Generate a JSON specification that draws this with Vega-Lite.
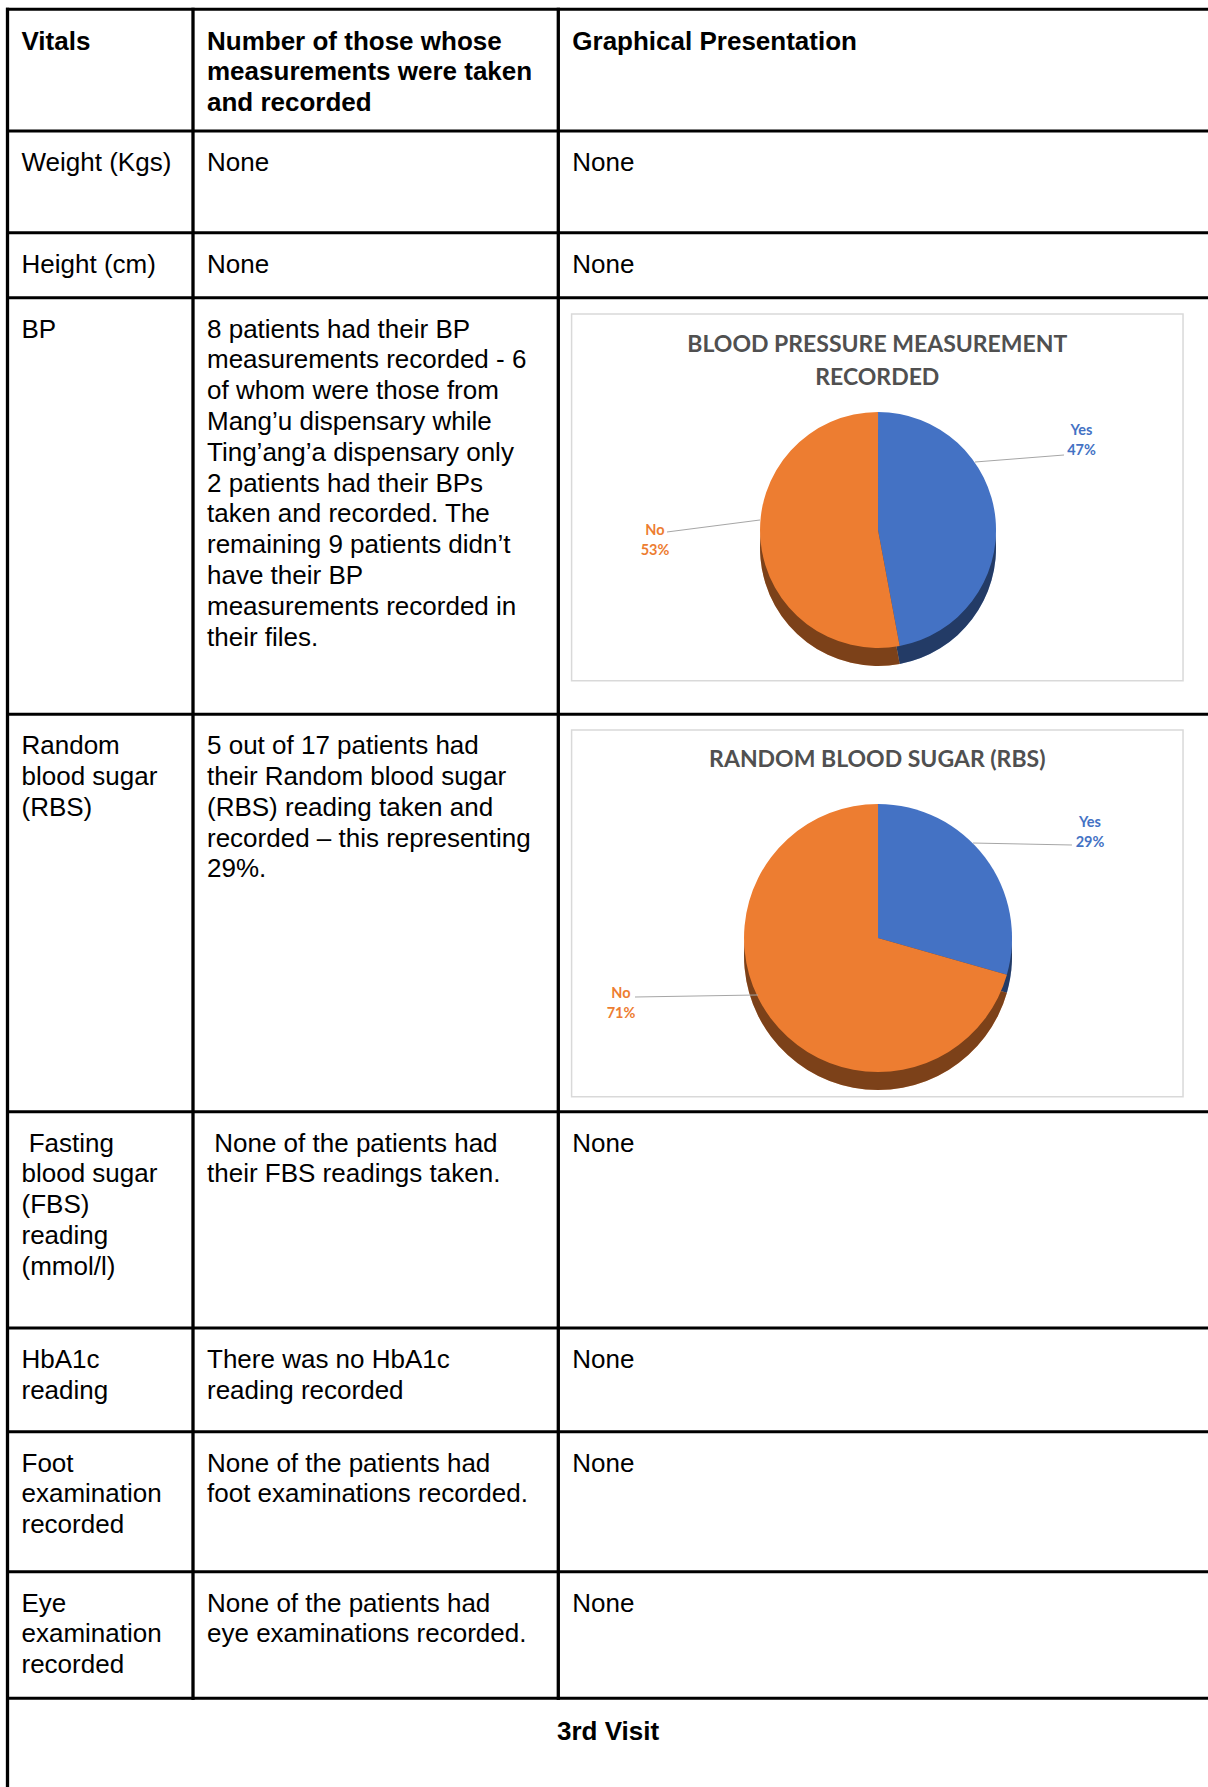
{
  "$schema": "https://vega.github.io/schema/vega-lite/v6.json",
  "width": 1208,
  "height": 1787,
  "padding": 0,
  "autosize": {"type": "none"},
  "background": "white",
  "config": {"view": {"stroke": null}, "axis": {"disable": true}},
  "datasets": {
    "cells": [
      {"row": 0, "col": 0, "text": "Vitals"},
      {"row": 0, "col": 1, "text": "Number of those whose\nmeasurements were taken\nand recorded"},
      {"row": 0, "col": 2, "text": "Graphical Presentation"},
      {"row": 1, "col": 0, "text": "Weight (Kgs)"},
      {"row": 1, "col": 1, "text": "None"},
      {"row": 1, "col": 2, "text": "None"},
      {"row": 2, "col": 0, "text": "Height (cm)"},
      {"row": 2, "col": 1, "text": "None"},
      {"row": 2, "col": 2, "text": "None"},
      {"row": 3, "col": 0, "text": "BP"},
      {"row": 3, "col": 1, "text": "8 patients had their BP\nmeasurements recorded - 6\nof whom were those from\nMang’u dispensary while\nTing’ang’a dispensary only\n2 patients had their BPs\ntaken and recorded. The\nremaining 9 patients didn’t\nhave their BP\nmeasurements recorded in\ntheir files."},
      {"row": 4, "col": 0, "text": "Random\nblood sugar\n(RBS)"},
      {"row": 4, "col": 1, "text": "5 out of 17 patients had\ntheir Random blood sugar\n(RBS) reading taken and\nrecorded – this representing\n29%."},
      {"row": 5, "col": 0, "text": "\u200b\u00a0Fasting\nblood sugar\n(FBS)\nreading\n(mmol/l)"},
      {"row": 5, "col": 1, "text": "\u200b\u00a0None of the patients had\ntheir FBS readings taken."},
      {"row": 5, "col": 2, "text": "None"},
      {"row": 6, "col": 0, "text": "HbA1c\nreading"},
      {"row": 6, "col": 1, "text": "There was no HbA1c\nreading recorded"},
      {"row": 6, "col": 2, "text": "None"},
      {"row": 7, "col": 0, "text": "Foot\nexamination\nrecorded"},
      {"row": 7, "col": 1, "text": "None of the  patients had\nfoot examinations recorded."},
      {"row": 7, "col": 2, "text": "None"},
      {"row": 8, "col": 0, "text": "Eye\nexamination\nrecorded"},
      {"row": 8, "col": 1, "text": "None of the  patients had\neye examinations recorded."},
      {"row": 8, "col": 2, "text": "None"}
    ],
    "footer": [{"row": 9, "col": 2.0763, "text": "3rd Visit"}],
    "hlines": [
      {"edge": 0, "from": 0, "to": 3}, {"edge": 1, "from": 0, "to": 3}, {"edge": 2, "from": 0, "to": 3},
      {"edge": 3, "from": 0, "to": 3}, {"edge": 4, "from": 0, "to": 3}, {"edge": 5, "from": 0, "to": 3},
      {"edge": 6, "from": 0, "to": 3}, {"edge": 7, "from": 0, "to": 3}, {"edge": 8, "from": 0, "to": 3},
      {"edge": 9, "from": 0, "to": 3}
    ],
    "vlines": [{"col": 0, "top": 0, "end": 10}, {"col": 1, "top": 0, "end": 9}, {"col": 2, "top": 0, "end": 9}],
    "charts": [
      {"chart": "BP", "title": "BLOOD PRESSURE MEASUREMENT\nRECORDED", "boxLeft": 2.0204, "boxRight": 2.9586, "boxTop": 3.0391, "boxBottom": 3.9193, "titleX": 2.4895, "titleY": 3.1296, "cx": 2.4906, "cy": 3.5576, "cyBase": 3.6008},
      {"chart": "RBS", "title": "RANDOM BLOOD SUGAR (RBS)", "boxLeft": 2.0204, "boxRight": 2.9586, "boxTop": 4.0395, "boxBottom": 4.9623, "titleX": 2.4895, "titleY": 4.1319, "cx": 2.4906, "cy": 4.5629, "cyBase": 4.6082}
    ],
    "callouts": [
      {"key": "BP-Yes", "lx": 2.8028, "ly": 3.3296, "fromX": 2.776, "fromY": 3.3776, "toX": 2.6394, "toY": 3.3944},
      {"key": "BP-No", "lx": 2.1484, "ly": 3.5696, "fromX": 2.1668, "fromY": 3.5624, "toX": 2.3095, "toY": 3.5336},
      {"key": "RBS-Yes", "lx": 2.8159, "ly": 4.2828, "fromX": 2.7882, "fromY": 4.3289, "toX": 2.6363, "toY": 4.3239},
      {"key": "RBS-No", "lx": 2.0962, "ly": 4.7139, "fromX": 2.1177, "fromY": 4.7114, "toX": 2.3064, "toY": 4.7063}
    ],
    "pies": [
      {"chart": "BP", "answer": "Yes", "patients": 8},
      {"chart": "BP", "answer": "No", "patients": 9},
      {"chart": "RBS", "answer": "Yes", "patients": 5},
      {"chart": "RBS", "answer": "No", "patients": 12}
    ]
  },
  "layer": [
    {
      "data": {"name": "charts"},
      "mark": {"type": "rect", "fill": "white", "stroke": "#d9d9d9", "strokeWidth": 1.5},
      "encoding": {
        "x": {"field": "boxLeft", "type": "quantitative", "axis": null, "scale": {"type": "linear", "domain": [0, 1, 2, 3], "range": [7.5, 193, 558.3, 1210], "zero": false, "nice": false}},
        "x2": {"field": "boxRight"},
        "y": {"field": "boxTop", "type": "quantitative", "axis": null, "scale": {"type": "linear", "domain": [0, 1, 2, 3, 4, 5, 6, 7, 8, 9, 10], "range": [9.3, 131, 232.7, 297.7, 714.3, 1111.7, 1328, 1431.7, 1571.7, 1698.3, 1800], "zero": false, "nice": false}},
        "y2": {"field": "boxBottom"}
      }
    },
    {
      "data": {"name": "hlines"},
      "mark": {"type": "rule", "color": "black", "strokeWidth": 3, "strokeCap": "square"},
      "encoding": {
        "y": {"field": "edge", "type": "quantitative", "axis": null},
        "x": {"field": "from", "type": "quantitative", "axis": null},
        "x2": {"field": "to"}
      }
    },
    {
      "data": {"name": "vlines"},
      "mark": {"type": "rule", "color": "black", "strokeWidth": 3.3, "strokeCap": "square"},
      "encoding": {
        "x": {"field": "col", "type": "quantitative", "axis": null},
        "y": {"field": "top", "type": "quantitative", "axis": null},
        "y2": {"field": "end"}
      }
    },
    {
      "data": {"name": "cells"},
      "transform": [{"filter": "datum.row === 0"}],
      "mark": {"type": "text", "font": "Liberation Sans", "fontSize": 26, "fontWeight": "bold", "align": "left", "baseline": "alphabetic", "lineBreak": "\n", "lineHeight": 30.3, "dx": 14, "dy": 40.7, "color": "black"},
      "encoding": {
        "x": {"field": "col", "type": "quantitative", "axis": null},
        "y": {"field": "row", "type": "quantitative", "axis": null},
        "text": {"field": "text", "type": "nominal"}
      }
    },
    {
      "data": {"name": "cells"},
      "transform": [{"filter": "datum.row > 0"}],
      "mark": {"type": "text", "font": "Liberation Sans", "fontSize": 26, "align": "left", "baseline": "alphabetic", "lineBreak": "\n", "lineHeight": 30.8, "dx": 14, "dy": 40, "color": "black"},
      "encoding": {
        "x": {"field": "col", "type": "quantitative", "axis": null},
        "y": {"field": "row", "type": "quantitative", "axis": null},
        "text": {"field": "text", "type": "nominal"}
      }
    },
    {
      "data": {"name": "footer"},
      "mark": {"type": "text", "font": "Liberation Sans", "fontSize": 26, "fontWeight": "bold", "align": "center", "baseline": "alphabetic", "dy": 41.5, "color": "black"},
      "encoding": {
        "x": {"field": "col", "type": "quantitative", "axis": null},
        "y": {"field": "row", "type": "quantitative", "axis": null},
        "text": {"field": "text", "type": "nominal"}
      }
    },
    {
      "data": {"name": "charts"},
      "mark": {"type": "text", "font": "Lato", "fontSize": 23, "fontWeight": "bold", "align": "center", "baseline": "alphabetic", "lineBreak": "\n", "lineHeight": 33, "color": "#505050"},
      "encoding": {
        "x": {"field": "titleX", "type": "quantitative", "axis": null},
        "y": {"field": "titleY", "type": "quantitative", "axis": null},
        "text": {"field": "title", "type": "nominal"}
      }
    },
    {
      "data": {"name": "pies"},
      "transform": [
        {"filter": "datum.chart === 'BP'"},
        {"lookup": "chart", "from": {"data": {"name": "charts"}, "key": "chart", "fields": ["cx", "cy", "cyBase"]}},
        {"stack": "patients", "groupby": ["chart"], "sort": [{"field": "answer", "order": "descending"}], "as": ["start", "end"]}
      ],
      "mark": {"type": "arc", "radius": 118},
      "encoding": {
        "theta": {"field": "end", "type": "quantitative", "scale": {"zero": true, "nice": false}},
        "theta2": {"field": "start"},
        "color": {"field": "answer", "type": "nominal", "scale": {"domain": ["Yes", "No"], "range": ["#4472C4", "#ED7D31"]}, "legend": null},
        "x": {"field": "cx", "type": "quantitative", "axis": null, "stack": null},
        "y": {"field": "cyBase", "type": "quantitative", "axis": null, "stack": null}
      }
    },
    {
      "data": {"name": "pies"},
      "transform": [
        {"filter": "datum.chart === 'BP'"},
        {"lookup": "chart", "from": {"data": {"name": "charts"}, "key": "chart", "fields": ["cx", "cy", "cyBase"]}},
        {"stack": "patients", "groupby": ["chart"], "sort": [{"field": "answer", "order": "descending"}], "as": ["start", "end"]}
      ],
      "mark": {"type": "arc", "radius": 118, "color": "black", "opacity": 0.48},
      "encoding": {
        "theta": {"field": "end", "type": "quantitative"},
        "theta2": {"field": "start"},
        "x": {"field": "cx", "type": "quantitative", "axis": null, "stack": null},
        "y": {"field": "cyBase", "type": "quantitative", "axis": null, "stack": null}
      }
    },
    {
      "data": {"name": "pies"},
      "transform": [
        {"filter": "datum.chart === 'BP'"},
        {"lookup": "chart", "from": {"data": {"name": "charts"}, "key": "chart", "fields": ["cx", "cy", "cyBase"]}},
        {"stack": "patients", "groupby": ["chart"], "sort": [{"field": "answer", "order": "descending"}], "as": ["start", "end"]}
      ],
      "mark": {"type": "arc", "radius": 118},
      "encoding": {
        "theta": {"field": "end", "type": "quantitative"},
        "theta2": {"field": "start"},
        "color": {"field": "answer", "type": "nominal", "legend": null},
        "x": {"field": "cx", "type": "quantitative", "axis": null, "stack": null},
        "y": {"field": "cy", "type": "quantitative", "axis": null, "stack": null}
      }
    },
    {
      "data": {"name": "pies"},
      "transform": [
        {"filter": "datum.chart === 'RBS'"},
        {"lookup": "chart", "from": {"data": {"name": "charts"}, "key": "chart", "fields": ["cx", "cy", "cyBase"]}},
        {"stack": "patients", "groupby": ["chart"], "sort": [{"field": "answer", "order": "descending"}], "as": ["start", "end"]}
      ],
      "mark": {"type": "arc", "radius": 134},
      "encoding": {
        "theta": {"field": "end", "type": "quantitative"},
        "theta2": {"field": "start"},
        "color": {"field": "answer", "type": "nominal", "legend": null},
        "x": {"field": "cx", "type": "quantitative", "axis": null, "stack": null},
        "y": {"field": "cyBase", "type": "quantitative", "axis": null, "stack": null}
      }
    },
    {
      "data": {"name": "pies"},
      "transform": [
        {"filter": "datum.chart === 'RBS'"},
        {"lookup": "chart", "from": {"data": {"name": "charts"}, "key": "chart", "fields": ["cx", "cy", "cyBase"]}},
        {"stack": "patients", "groupby": ["chart"], "sort": [{"field": "answer", "order": "descending"}], "as": ["start", "end"]}
      ],
      "mark": {"type": "arc", "radius": 134, "color": "black", "opacity": 0.48},
      "encoding": {
        "theta": {"field": "end", "type": "quantitative"},
        "theta2": {"field": "start"},
        "x": {"field": "cx", "type": "quantitative", "axis": null, "stack": null},
        "y": {"field": "cyBase", "type": "quantitative", "axis": null, "stack": null}
      }
    },
    {
      "data": {"name": "pies"},
      "transform": [
        {"filter": "datum.chart === 'RBS'"},
        {"lookup": "chart", "from": {"data": {"name": "charts"}, "key": "chart", "fields": ["cx", "cy", "cyBase"]}},
        {"stack": "patients", "groupby": ["chart"], "sort": [{"field": "answer", "order": "descending"}], "as": ["start", "end"]}
      ],
      "mark": {"type": "arc", "radius": 134},
      "encoding": {
        "theta": {"field": "end", "type": "quantitative"},
        "theta2": {"field": "start"},
        "color": {"field": "answer", "type": "nominal", "legend": null},
        "x": {"field": "cx", "type": "quantitative", "axis": null, "stack": null},
        "y": {"field": "cy", "type": "quantitative", "axis": null, "stack": null}
      }
    },
    {
      "data": {"name": "callouts"},
      "mark": {"type": "rule", "color": "#a6a6a6", "strokeWidth": 1},
      "encoding": {
        "x": {"field": "fromX", "type": "quantitative", "axis": null},
        "y": {"field": "fromY", "type": "quantitative", "axis": null},
        "x2": {"field": "toX"},
        "y2": {"field": "toY"}
      }
    },
    {
      "data": {"name": "pies"},
      "transform": [
        {"joinaggregate": [{"op": "sum", "field": "patients", "as": "total"}], "groupby": ["chart"]},
        {"calculate": "datum.chart + '-' + datum.answer", "as": "key"},
        {"lookup": "key", "from": {"data": {"name": "callouts"}, "key": "key", "fields": ["lx", "ly"]}},
        {"calculate": "datum.answer + '\\n' + format(datum.patients / datum.total, '.0%')", "as": "label"}
      ],
      "mark": {"type": "text", "font": "Lato", "fontSize": 14.5, "fontWeight": "bold", "align": "center", "baseline": "alphabetic", "lineBreak": "\n", "lineHeight": 20},
      "encoding": {
        "x": {"field": "lx", "type": "quantitative", "axis": null},
        "y": {"field": "ly", "type": "quantitative", "axis": null},
        "text": {"field": "label", "type": "nominal"},
        "color": {"field": "answer", "type": "nominal", "legend": null}
      }
    }
  ]
}
